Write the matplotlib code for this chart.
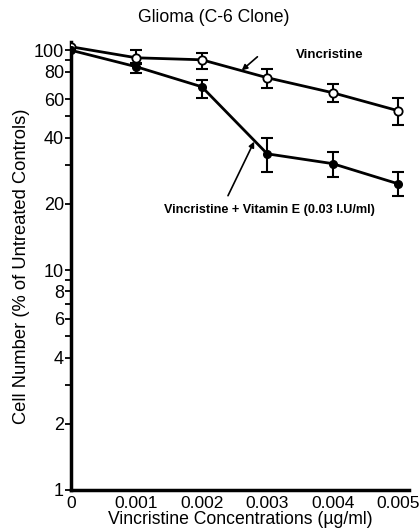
import matplotlib.pyplot as plt
from matplotlib.ticker import FixedLocator, NullFormatter

# concentrations (ug/ml)
conc = [0, 0.001, 0.002, 0.003, 0.004, 0.005]
xtick_labels = ['0', '0.001', '0.002', '0.003', '0.004', '0.005']

# Vincristine alone (open circles)
vinc = [103.7, 92.4, 90.5, 75.0, 64.1, 53.1]
vinc_hi = [103.7, 100.5, 97.4, 82.4, 70.4, 60.8]
vinc_lo = [103.7, 86.9, 82.4, 67.6, 58.3, 45.9]

# Vincristine + Vitamin E (filled circles)
vite = [100.0, 84.1, 68.2, 33.8, 30.5, 24.7]
vite_hi = [100.0, 87.7, 73.4, 40.0, 34.6, 27.8]
vite_lo = [100.0, 79.0, 60.8, 27.8, 26.6, 21.8]

ytick_major = [1, 2, 4, 6, 8, 10, 20, 40, 60, 80, 100]
ytick_minor = [3, 5, 7, 9, 30, 50, 90]

plt.rcParams['font.family'] = ['Liberation Sans', 'DejaVu Sans']

fig = plt.figure(figsize=(4.19, 5.32), dpi=100)
ax = fig.add_axes([0.1695, 0.079, 0.807, 0.842])

def err(vals, lo, hi):
    return [[v - l for v, l in zip(vals, lo)], [h - v for v, h in zip(vals, hi)]]

# lines + markers
ax.plot(conc, vinc, color='black', lw=2, marker='o', ms=6, mfc='white',
        mec='black', mew=1.3, zorder=4)
ax.plot(conc, vite, color='black', lw=2, marker='o', ms=5.5, mfc='black',
        mec='black', zorder=4)
# error bars (no bar at control point)
ax.errorbar(conc[1:], vinc[1:], yerr=err(vinc[1:], vinc_lo[1:], vinc_hi[1:]),
            fmt='none', ecolor='black', elinewidth=1.5, capsize=4.5, capthick=1.5, zorder=3)
ax.errorbar(conc[1:], vite[1:], yerr=err(vite[1:], vite_lo[1:], vite_hi[1:]),
            fmt='none', ecolor='black', elinewidth=1.5, capsize=4.5, capthick=1.5, zorder=3)

ax.set_yscale('log')
ax.set_ylim(1, 109)
ax.set_xlim(0, 0.00517)

ax.yaxis.set_major_locator(FixedLocator(ytick_major))
ax.set_yticklabels([str(t) for t in ytick_major])
ax.yaxis.set_minor_locator(FixedLocator(ytick_minor))
ax.yaxis.set_minor_formatter(NullFormatter())
ax.tick_params(axis='y', which='both', direction='out', length=4, width=1.3,
               labelsize=13, pad=1)
ax.set_xticks(conc)
ax.set_xticklabels(xtick_labels)
ax.tick_params(axis='x', length=0, labelsize=12.5, pad=4)

for s in ['top', 'right']:
    ax.spines[s].set_visible(False)
ax.spines['left'].set_linewidth(2.5)
ax.spines['bottom'].set_linewidth(2.5)

fig.text(214 / 419, 1 - 17 / 532, 'Glioma (C-6 Clone)', fontsize=12.7,
         ha='center', va='center')
ax.set_xlabel('Vincristine Concentrations (\u00b5g/ml)', fontsize=12.7, labelpad=0)
ax.set_ylabel('Cell Number (% of Untreated Controls)', fontsize=13.2, labelpad=3)

ax.text(0.00396, 95, 'Vincristine', fontsize=9.5, fontweight='bold',
        ha='center', va='center')
ax.annotate('', xy=(0.00261, 81), xytext=(0.00285, 93.4),
            arrowprops=dict(arrowstyle='-|>', color='black', lw=1.2,
                            shrinkA=0, shrinkB=0, mutation_scale=8))
ax.text(0.00303, 18.7, 'Vincristine + Vitamin E (0.03 I.U/ml)', fontsize=9.1,
        fontweight='bold', ha='center', va='center')
ax.annotate('', xy=(0.0028, 38.4), xytext=(0.0024, 21.8),
            arrowprops=dict(arrowstyle='-|>', color='black', lw=1.2,
                            shrinkA=0, shrinkB=0, mutation_scale=8))

fig.savefig('out.png', dpi=100)
